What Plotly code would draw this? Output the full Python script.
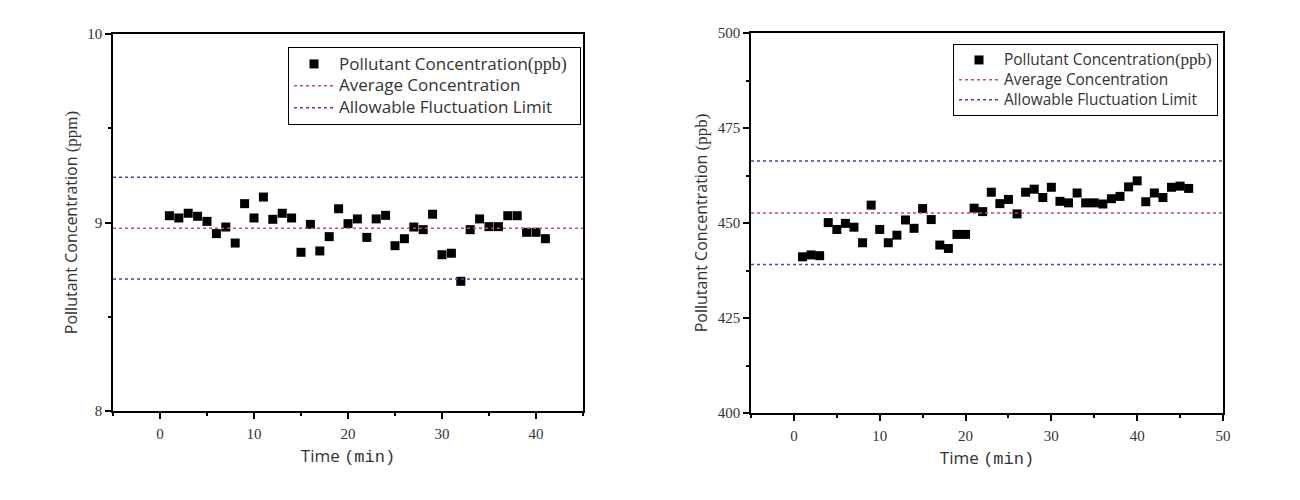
import plotly.graph_objects as go

# ---------------- data ----------------
time_left = list(range(1, 42))
conc_left = [9.036, 9.024, 9.049, 9.033, 9.006, 8.941, 8.976, 8.891, 9.100, 9.024,
             9.135, 9.017, 9.049, 9.024, 8.842, 8.990, 8.849, 8.925, 9.073, 8.994,
             9.019, 8.921, 9.019, 9.038, 8.877, 8.914, 8.976, 8.962, 9.044, 8.829,
             8.837, 8.688, 8.962, 9.019, 8.978, 8.978, 9.036, 9.036, 8.948, 8.948,
             8.914]
avg_left = 8.97
limits_left = [9.24, 8.70]

time_right = list(range(1, 47))
conc_right = [441.1, 441.6, 441.4, 450.1, 448.3, 449.9, 448.9, 444.8, 454.7, 448.3,
              444.8, 446.8, 450.8, 448.6, 453.8, 450.9, 444.2, 443.3, 447.0, 447.0,
              453.9, 453.0, 458.1, 455.1, 456.2, 452.4, 458.1, 458.9, 456.7, 459.4,
              455.7, 455.3, 457.9, 455.3, 455.3, 455.0, 456.4, 457.0, 459.5, 461.1,
              455.6, 457.9, 456.7, 459.4, 459.7, 459.1]
avg_right = 452.6
limits_right = [466.3, 439.1]

x_range_left = [-5, 45]
x_range_right = [-5, 50]
y_range_left = [8, 10]
y_range_right = [400, 500]

# ---------------- style ----------------
SANS = "Open Sans"
SERIF = "Liberation Serif"
MONO = "Liberation Mono"
RED = "#c0504d"
BLUE = "#4646a8"
TXT = "#333333"

fig = go.Figure()


def names(sans_px, serif_px, pad=""):
    s = f'font-family:{SANS};font-size:{sans_px}px'
    pts = (f'<span style="{s}">Pollutant Concentration</span>'
           f'<span style="font-family:{SERIF};font-size:{serif_px}px">(ppb)</span>{pad}')
    avg = f'<span style="{s}">Average Concentration</span>'
    lim = f'<span style="{s}">Allowable Fluctuation Limit</span>'
    return pts, avg, lim


def add_panel(xs, ys, avg, lims, xr, xa, ya, legend, labels):
    n_pts, n_avg, n_lim = labels
    fig.add_trace(go.Scatter(
        x=xs, y=ys, mode="markers", name=n_pts, legend=legend,
        marker=dict(symbol="square", size=9, color="black", line=dict(width=0)),
        xaxis=xa, yaxis=ya))
    fig.add_trace(go.Scatter(
        x=xr, y=[avg, avg], mode="lines", name=n_avg, legend=legend,
        line=dict(color=RED, width=1.5, dash="dot"), xaxis=xa, yaxis=ya))
    fig.add_trace(go.Scatter(
        x=[xr[0], xr[1], None, xr[0], xr[1]],
        y=[lims[0], lims[0], None, lims[1], lims[1]],
        mode="lines", name=n_lim, legend=legend,
        line=dict(color=BLUE, width=1.5, dash="dot"), xaxis=xa, yaxis=ya))


add_panel(time_left, conc_left, avg_left, limits_left, x_range_left, "x", "y", "legend",
          names(17, 18, "\u00a0\u00a0"))
add_panel(time_right, conc_right, avg_right, limits_right, x_range_right, "x2", "y2", "legend2",
          names(15.4, 17))

axis_common = dict(
    showline=True, linecolor="black", linewidth=1.5, mirror=True,
    ticks="outside", ticklen=6, tickwidth=1.5, tickcolor="black",
    showgrid=False, zeroline=False, automargin=False,
    tickfont=dict(family=SERIF, size=15, color=TXT),
)
minor_common = dict(ticks="outside", ticklen=3, tickwidth=1.5, tickcolor="black", showgrid=False)

xtitle = dict(text=f'Time <span style="font-family:{MONO}">(min)</span>',
              font=dict(family=SANS, size=17, color=TXT), standoff=9)

fig.update_layout(
    width=1300, height=500,
    margin=dict(l=0, r=0, t=0, b=0),
    paper_bgcolor="white", plot_bgcolor="white",
    showlegend=True,
    xaxis=dict(domain=[113/1300, 583/1300], range=x_range_left, dtick=10, tick0=0,
               minor=dict(dtick=5, **minor_common), anchor="y", title=xtitle,
               ticklabelstandoff=2, **axis_common),
    yaxis=dict(domain=[1-411/500, 1-34/500], range=y_range_left, dtick=1, tick0=8,
               minor=dict(dtick=0.5, **minor_common), anchor="x",
               title=dict(text=f'Pollutant Concentration <span style="font-family:{SERIF};font-size:17px">(ppm)</span>',
                          font=dict(family=SANS, size=16, color=TXT), standoff=6),
               **axis_common),
    xaxis2=dict(domain=[751/1300, 1223/1300], range=x_range_right, dtick=10, tick0=0,
                minor=dict(dtick=5, **minor_common), anchor="y2", title=xtitle,
                ticklabelstandoff=2, **axis_common),
    yaxis2=dict(domain=[1-413/500, 1-33/500], range=y_range_right, dtick=25, tick0=400,
                minor=dict(dtick=12.5, **minor_common), anchor="x2",
                title=dict(text=f'Pollutant Concentration <span style="font-family:{SERIF};font-size:17px">(ppb)</span>',
                           font=dict(family=SANS, size=16, color=TXT), standoff=6),
                **axis_common),
    legend=dict(x=581/1300, y=1-47/500, xanchor="right", yanchor="top",
                bgcolor="white", bordercolor="black", borderwidth=1,
                font=dict(family=SANS, size=14.5, color=TXT), tracegroupgap=0,
                itemwidth=40),
    legend2=dict(x=1218/1300, y=1-44/500, xanchor="right", yanchor="top",
                 bgcolor="white", bordercolor="black", borderwidth=1,
                 font=dict(family=SANS, size=13, color=TXT), tracegroupgap=0,
                 itemwidth=40),
)

fig.write_html("out.html", post_script="document.body.style.margin='0';")
